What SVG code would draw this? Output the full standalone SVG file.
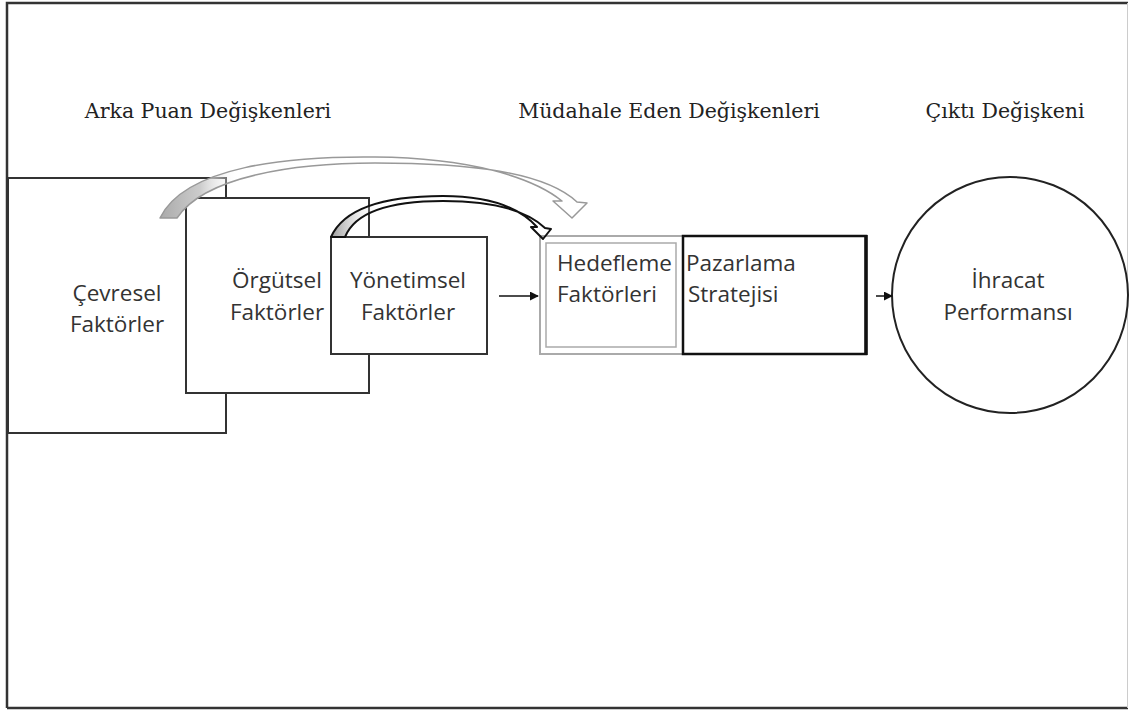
<svg xmlns="http://www.w3.org/2000/svg" width="1129" height="711" viewBox="0 0 1129 711">
<style>
.box{fill:#fff;stroke:#333;stroke-width:2}
.lbl{font-family:"Open Sans","Noto Sans",sans-serif;font-size:22.5px;fill:#333}
.hdr{font-family:"DejaVu Serif","Liberation Serif",serif;font-size:20.5px;fill:#222}
</style>
<defs>
<linearGradient id="gtail" gradientUnits="userSpaceOnUse" x1="160" y1="0" x2="240" y2="0">
<stop offset="0" stop-color="#aaa"/><stop offset="0.5" stop-color="#ccc"/><stop offset="1" stop-color="#fff" stop-opacity="0"/>
</linearGradient>
<linearGradient id="btail" gradientUnits="userSpaceOnUse" x1="331" y1="0" x2="380" y2="0">
<stop offset="0" stop-color="#999"/><stop offset="1" stop-color="#fff" stop-opacity="0"/>
</linearGradient>
<marker id="ah" viewBox="0 0 10 10" refX="9" refY="5" markerWidth="9" markerHeight="9" markerUnits="userSpaceOnUse" orient="auto">
<path d="M0,0 L10,5 L0,10 Z" fill="#111"/>
</marker>
</defs>
<rect x="0" y="0" width="1129" height="711" fill="#fff"/>
<g id="frame">
<path d="M7,708 L7,3 L1128,3" fill="none" stroke="#333" stroke-width="2.5"/>
<path d="M7,708 L1128,708" fill="none" stroke="#333" stroke-width="2.5"/>
<line x1="1127.5" y1="3" x2="1127.5" y2="708" stroke="#ccc" stroke-width="1"/>
</g>
<g id="headers">
<text class="hdr" x="208" y="118" text-anchor="middle">Arka Puan Değişkenleri</text>
<text class="hdr" x="669" y="118" text-anchor="middle">Müdahale Eden Değişkenleri</text>
<text class="hdr" x="1005" y="118" text-anchor="middle">Çıktı Değişkeni</text>
</g>
<g id="cevresel">
<rect class="box" x="8" y="178" width="218" height="255"/>
<text class="lbl" x="117" y="301" text-anchor="middle">Çevresel</text>
<text class="lbl" x="117" y="332" text-anchor="middle">Faktörler</text>
</g>
<g id="orgutsel">
<rect class="box" x="186" y="198" width="183" height="195"/>
<text class="lbl" x="277" y="288" text-anchor="middle">Örgütsel</text>
<text class="lbl" x="277" y="320" text-anchor="middle">Faktörler</text>
</g>
<g id="yonetimsel">
<rect class="box" x="331" y="237" width="156" height="117"/>
<text class="lbl" x="408" y="288" text-anchor="middle">Yönetimsel</text>
<text class="lbl" x="408" y="320" text-anchor="middle">Faktörler</text>
</g>
<g id="hedefleme">
<rect x="540" y="236" width="143" height="118" fill="#fff" stroke="#aaa" stroke-width="2"/>
<rect x="546" y="243" width="130" height="104" fill="none" stroke="#aaa" stroke-width="1.5"/>
<text class="lbl" x="557" y="271">Hedefleme</text>
<text class="lbl" x="557" y="302">Faktörleri</text>
</g>
<g id="pazarlama">
<rect x="683" y="236" width="183" height="118" fill="none" stroke="#111" stroke-width="2.5"/>
<line x1="866" y1="235" x2="866" y2="355" stroke="#111" stroke-width="3.5"/>
<text class="lbl" x="686" y="271">Pazarlama</text>
<text class="lbl" x="688" y="302">Stratejisi</text>
</g>
<g id="ihracat">
<circle cx="1010" cy="295" r="118" fill="#fff" stroke="#222" stroke-width="2"/>
<text class="lbl" x="1008" y="288" text-anchor="middle">İhracat</text>
<text class="lbl" x="1008" y="320" text-anchor="middle">Performansı</text>
</g>
<g id="connectors">
<path d="M160,218 C185,166 290,156 375,157 C470,158 532,177 562,201 L553,201 L572,218 L587,203 L577,202 C545,172 470,163 375,163 C295,163 205,176 177,218 Z" fill="url(#gtail)" stroke="#999" stroke-width="1.5" stroke-linejoin="round"/>
<path d="M331,237 C345,206 390,196 443,196 C490,196 520,208 537,227 L531,227 L543,239 L551,229 L545,228 C525,209 490,201 443,201 C396,201 356,210 345,237 Z" fill="url(#btail)" stroke="#111" stroke-width="2" stroke-linejoin="round"/>
<line x1="499" y1="296" x2="538" y2="296" stroke="#111" stroke-width="1.5" marker-end="url(#ah)"/>
<line x1="876" y1="296" x2="892" y2="296" stroke="#111" stroke-width="1.5" marker-end="url(#ah)"/>
</g>
</svg>
